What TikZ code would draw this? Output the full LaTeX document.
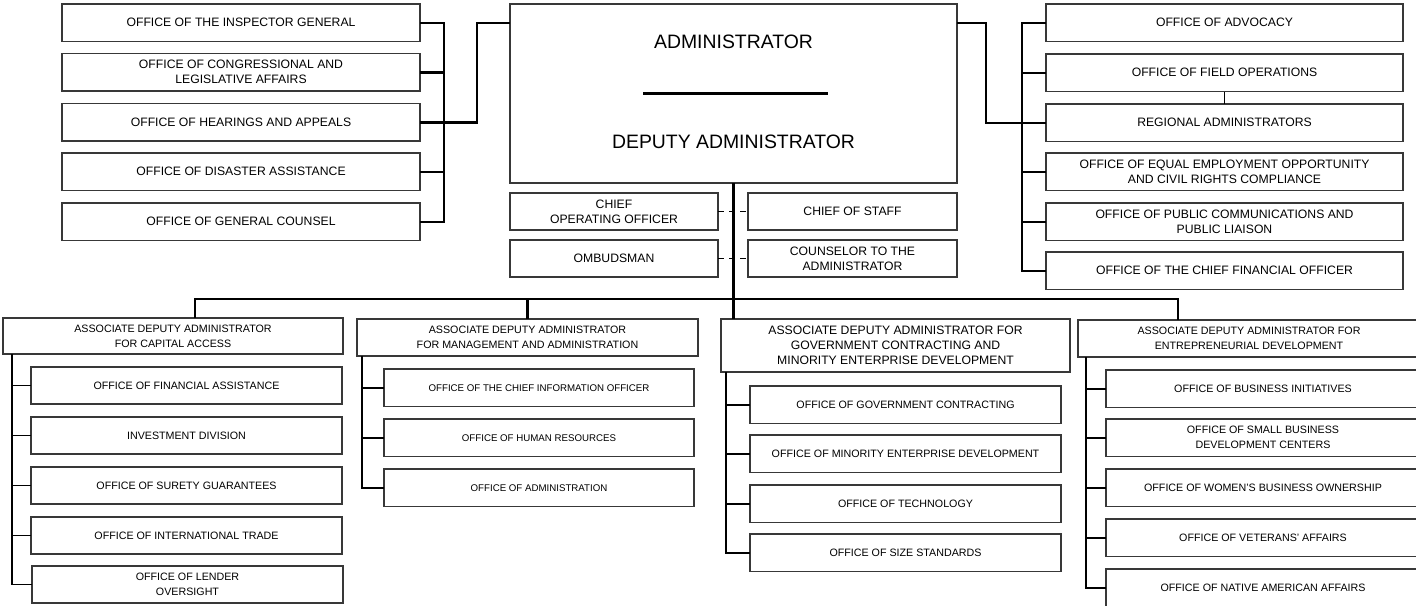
\documentclass[tikz,border=0pt]{standalone}
\usepackage{fontspec}
\setmainfont{Liberation Sans}
\definecolor{boxgray}{gray}{0.22}
\begin{document}
\begin{tikzpicture}[x=1pt,y=-1pt,
  box/.style={draw=boxgray, line width=1.3pt, fill=white, inner sep=1pt, outer sep=0pt, align=center, anchor=north west},
  fBig/.style={font=\fontsize{19.4}{23}\selectfont},
  fA/.style={font=\fontsize{12.2}{15}\selectfont},
  fB/.style={font=\fontsize{10.7}{15}\selectfont},
  fC/.style={font=\fontsize{9.7}{15}\selectfont},
  bus/.style={line width=2.5pt, black},
  conn/.style={line width=1.5pt, black},
  dashline/.style={line width=1.5pt, black, dash pattern=on 6pt off 5pt},
  lw/.style={minimum width=358pt, minimum height=37.5pt},
  rw/.style={minimum width=357pt, minimum height=37.5pt},
  sw/.style={minimum width=208pt, minimum height=37pt},
  g1w/.style={minimum width=311pt, minimum height=37pt},
  g2w/.style={minimum width=310pt, minimum height=37.5pt},
  g3w/.style={minimum width=311pt, minimum height=37.5pt},
  g4w/.style={minimum width=314pt, minimum height=37.5pt},
]
\useasboundingbox[fill=white] (0,0) rectangle (1416,605);

% ---------- top left column ----------
\node[box,fA,lw] (ig)   at (62,4)     {OFFICE OF THE INSPECTOR GENERAL};
\node[box,fA,lw] (cong) at (62,53.5)  {OFFICE OF CONGRESSIONAL AND\\LEGISLATIVE AFFAIRS};
\node[box,fA,lw] (hear) at (62,103.5) {OFFICE OF HEARINGS AND APPEALS};
\node[box,fA,lw] (dis)  at (62,153)   {OFFICE OF DISASTER ASSISTANCE};
\node[box,fA,lw] (gc)   at (62,203)   {OFFICE OF GENERAL COUNSEL};

% ---------- administrator ----------
\node[box,minimum width=447pt,minimum height=179pt] (admin) at (510,4) {};
\node[fBig,inner sep=0pt] (admt) at (733.5,42) {ADMINISTRATOR};
\node[fBig,inner sep=0pt] (dept) at (733.5,142) {DEPUTY ADMINISTRATOR};
\draw[bus] ([xshift=-90.5pt]admin.center) -- ([xshift=94.5pt]admin.center);

\node[box,fA,sw] (coo)   at (510,193) {CHIEF\\OPERATING OFFICER};
\node[box,fA,sw,minimum width=209pt] (cos)   at (748,193) {CHIEF OF STAFF};
\node[box,fA,sw] (omb)   at (510,240) {OMBUDSMAN};
\node[box,fA,sw,minimum width=209pt] (couns) at (748,240) {COUNSELOR TO THE\\ADMINISTRATOR};

% ---------- top right column ----------
\node[box,fA,rw] (adv)   at (1046,4)   {OFFICE OF ADVOCACY};
\node[box,fA,rw] (field) at (1046,54)  {OFFICE OF FIELD OPERATIONS};
\node[box,fA,rw] (reg)   at (1046,104) {REGIONAL ADMINISTRATORS};
\node[box,fA,rw] (eeo)   at (1046,153) {OFFICE OF EQUAL EMPLOYMENT OPPORTUNITY\\AND CIVIL RIGHTS COMPLIANCE};
\node[box,fA,rw] (pub)   at (1046,203) {OFFICE OF PUBLIC COMMUNICATIONS AND\\PUBLIC LIAISON};
\node[box,fA,rw] (cfo)   at (1046,252) {OFFICE OF THE CHIEF FINANCIAL OFFICER};

% ---------- group 1 ----------
\node[box,fB,minimum width=340pt,minimum height=36pt] (ada1) at (3,318) {ASSOCIATE DEPUTY ADMINISTRATOR\\FOR CAPITAL ACCESS};
\node[box,fB,g1w] (fa)   at (31,367) {OFFICE OF FINANCIAL ASSISTANCE};
\node[box,fB,g1w] (inv)  at (31,417) {INVESTMENT DIVISION};
\node[box,fB,g1w] (sur)  at (31,467) {OFFICE OF SURETY GUARANTEES};
\node[box,fB,g1w] (intl) at (31,517) {OFFICE OF INTERNATIONAL TRADE};
\node[box,fB,g1w] (lend) at (32,566) {OFFICE OF LENDER\\OVERSIGHT};

% ---------- group 2 ----------
\node[box,fB,minimum width=341pt,minimum height=37pt] (ada2) at (357,319) {ASSOCIATE DEPUTY ADMINISTRATOR\\FOR MANAGEMENT AND ADMINISTRATION};
\node[box,fC,g2w] (cio) at (384,369) {OFFICE OF THE CHIEF INFORMATION OFFICER};
\node[box,fC,g2w] (hr)  at (384,419) {OFFICE OF HUMAN RESOURCES};
\node[box,fC,g2w] (oa)  at (384,469) {OFFICE OF ADMINISTRATION};

% ---------- group 3 ----------
\node[box,fA,minimum width=349pt,minimum height=53pt] (ada3) at (721,319) {ASSOCIATE DEPUTY ADMINISTRATOR FOR\\GOVERNMENT CONTRACTING AND\\MINORITY ENTERPRISE DEVELOPMENT};
\node[box,fB,g3w] (gcon) at (750,386) {OFFICE OF GOVERNMENT CONTRACTING};
\node[box,fB,g3w] (med)  at (750,435) {OFFICE OF MINORITY ENTERPRISE DEVELOPMENT};
\node[box,fB,g3w] (tech) at (750,485) {OFFICE OF TECHNOLOGY};
\node[box,fB,g3w] (size) at (750,534) {OFFICE OF SIZE STANDARDS};

% ---------- group 4 ----------
\node[box,fB,minimum width=342pt,minimum height=37pt] (ada4) at (1078,320) {ASSOCIATE DEPUTY ADMINISTRATOR FOR\\ENTREPRENEURIAL DEVELOPMENT};
\node[box,fB,g4w] (bi)   at (1106,370) {OFFICE OF BUSINESS INITIATIVES};
\node[box,fB,g4w] (sbdc) at (1106,419) {OFFICE OF SMALL BUSINESS\\DEVELOPMENT CENTERS};
\node[box,fB,g4w] (wbo)  at (1106,469) {OFFICE OF WOMEN'S BUSINESS OWNERSHIP};
\node[box,fB,g4w] (vet)  at (1106,519) {OFFICE OF VETERANS' AFFAIRS};
\node[box,fB,g4w] (naa)  at (1106,569) {OFFICE OF NATIVE AMERICAN AFFAIRS};

% ---------- helper coordinates ----------
\coordinate (lbx) at (444,0);
\coordinate (j1)  at (477,0);
\coordinate (j2)  at (986,0);
\coordinate (rbx) at (1022,0);
\coordinate (busy) at (0,299);
\coordinate (g1x) at (195,0);
\coordinate (g4x) at (1178,0);
\coordinate (s1) at (12,0);
\coordinate (s2) at (362,0);
\coordinate (s3) at (726,0);
\coordinate (s4) at (1086,0);
\coordinate (aL) at ([yshift=-19pt]admin.north west);
\coordinate (aR) at ([yshift=-19pt]admin.north east);

% ---------- top connectors ----------
\draw[bus] (ig.east) -- (ig.east -| lbx) -- (gc.east -| lbx) -- (gc.east);
\draw[bus] (cong.east) -- (cong.east -| lbx);
\draw[bus] (dis.east) -- (dis.east -| lbx);
\draw[bus] (hear.east) -- (hear.east -| j1) -- (j1 |- aL) -- (aL);

\draw[bus] (adv.west) -- (adv.west -| rbx) -- (cfo.west -| rbx) -- (cfo.west);
\draw[bus] (field.west) -- (field.west -| rbx);
\draw[bus] (eeo.west) -- (eeo.west -| rbx);
\draw[bus] (pub.west) -- (pub.west -| rbx);
\draw[bus] (aR) -- (aR -| j2) -- (j2 |- reg.west) -- (reg.west);
\draw[conn,line width=1.3pt] (field.south) -- (reg.north);

\draw[dashline] (coo.east) -- (cos.west);
\draw[dashline] (omb.east) -- (couns.west);

% ---------- trunk and bottom bus ----------
\draw[bus] (admin.south) -- (admin.south |- ada3.north);
\draw[bus] (g1x |- ada1.north) -- (g1x |- busy) -- (g4x |- busy) -- (g4x |- ada4.north);
\draw[bus] (ada2.north) -- (ada2.north |- busy);

% ---------- group spines ----------
\draw[conn] (s1 |- ada1.south) -- (s1 |- lend.west) -- (lend.west);
\foreach \n in {fa,inv,sur,intl} \draw[conn] (s1 |- \n.west) -- (\n.west);

\draw[conn] (s2 |- ada2.south) -- (s2 |- oa.west) -- (oa.west);
\foreach \n in {cio,hr} \draw[conn] (s2 |- \n.west) -- (\n.west);

\draw[conn] (s3 |- ada3.south) -- (s3 |- size.west) -- (size.west);
\foreach \n in {gcon,med,tech} \draw[conn] (s3 |- \n.west) -- (\n.west);

\draw[conn] (s4 |- ada4.south) -- (s4 |- naa.west) -- (naa.west);
\foreach \n in {bi,sbdc,wbo,vet} \draw[conn] (s4 |- \n.west) -- (\n.west);
\end{tikzpicture}
\end{document}
